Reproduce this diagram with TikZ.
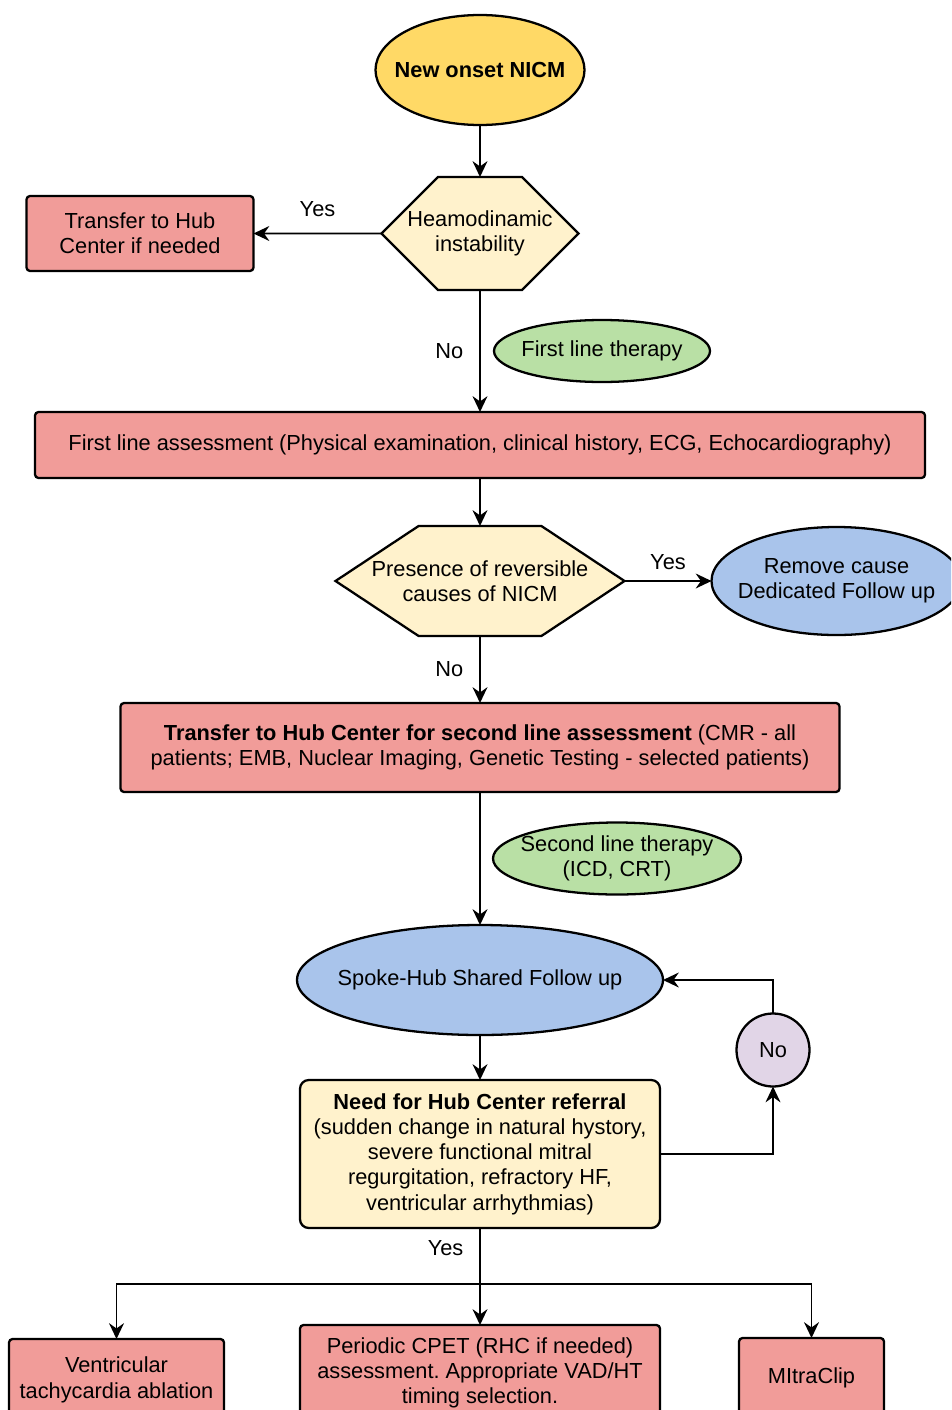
\documentclass[tikz,border=0pt]{standalone}
\usepackage{fontspec}
\setmainfont{Liberation Sans}
\frenchspacing
\usetikzlibrary{shapes.geometric, shapes.symbols, arrows.meta, positioning, calc}

\definecolor{onsetyellow}{HTML}{FFD966}
\definecolor{askyellow}{HTML}{FFF2CC}
\definecolor{stepred}{HTML}{F19C99}
\definecolor{therapygreen}{HTML}{B9E0A5}
\definecolor{followblue}{HTML}{A9C4EB}
\definecolor{nopurple}{HTML}{E1D5E7}

% zero-width text line, so an oval keeps its own size
\newcommand{\nw}[1]{\makebox[0pt]{#1}}

\begin{document}
\begin{tikzpicture}[
    node distance=1.0cm,
    font=\fontsize{12.4}{14.4}\selectfont,
    stepbox/.style={rectangle, draw=black, fill=stepred, line width=1.3pt, rounded corners=2pt, align=center, inner sep=2pt, outer sep=0pt},
    hexa/.style={signal, signal to=east and west, draw=black, fill=askyellow, line width=1.3pt, align=center, inner sep=0pt, outer sep=0pt},
    oval/.style={ellipse, draw=black, line width=1.3pt, align=center, inner sep=0pt, outer sep=0pt},
    lbl/.style={inner sep=1pt},
    link/.style={line width=1pt},
    arrow/.style={-{Stealth[length=9pt, width=8.5pt, inset=3pt]}, line width=1pt}
]
\useasboundingbox (0,0) rectangle (19.02,-28.2);
\clip (0,0) rectangle (19.02,-28.2);

% Nodes
\node[oval, fill=onsetyellow, minimum width=4.18cm, minimum height=2.2cm] (nicm) at (9.6,-1.4) {\nw{\textbf{New onset NICM}}};

\node[hexa, minimum width=3.94cm, minimum height=2.26cm, below=1.04cm of nicm] (heamo) {\nw{Heamodinamic}\\\nw{instability}};
\node[stepbox, minimum width=4.54cm, minimum height=1.5cm, left=2.56cm of heamo] (hubx) {Transfer to Hub\\Center if needed};

\node[stepbox, minimum width=17.8cm, minimum height=1.32cm, below=2.44cm of heamo] (fla) {First line assessment (Physical examination, clinical history, ECG, Echocardiography)};
\coordinate (gap1) at ($(heamo.south)!0.5!(fla.north)$);
\node[oval, fill=therapygreen, minimum width=4.32cm, minimum height=1.24cm, right=0.28cm of gap1] (flt) {\nw{First line therapy}};

\node[hexa, signal pointer angle=67, minimum width=5.78cm, minimum height=2.2cm, below=0.96cm of fla] (rev) {\nw{Presence of reversible}\\\nw{causes of NICM}};
\node[oval, fill=followblue, minimum width=5cm, minimum height=2.16cm, right=1.74cm of rev] (remove) {\nw{Remove cause}\\\nw{Dedicated Follow up}};

\node[stepbox, minimum width=14.38cm, minimum height=1.78cm, below=1.34cm of rev] (hub2) {\textbf{Transfer to Hub Center for second line assessment} (CMR - all\\patients; EMB, Nuclear Imaging, Genetic Testing - selected patients)};

\node[oval, fill=followblue, minimum width=7.32cm, minimum height=2.2cm, below=2.66cm of hub2] (spoke) {\nw{Spoke-Hub Shared Follow up}};
\coordinate (gap2) at ($(hub2.south)!0.5!(spoke.north)$);
\node[oval, fill=therapygreen, minimum width=4.96cm, minimum height=1.44cm, right=0.26cm of gap2] (slt) {\nw{Second line therapy}\\\nw{(ICD, CRT)}};

\node[stepbox, fill=askyellow, rounded corners=5pt, minimum width=7.2cm, minimum height=2.96cm, below=0.9cm of spoke] (need) {\textbf{Need for Hub Center referral}\\(sudden change in natural hystory,\\severe functional mitral\\regurgitation, refractory HF,\\ventricular arrhythmias)};
\node[circle, draw=black, fill=nopurple, line width=1.3pt, minimum size=1.46cm, inner sep=0pt, outer sep=0pt] (nobub) at (15.46,-21.0) {No};

\node[stepbox, minimum width=7.2cm, minimum height=1.92cm, below=1.94cm of need] (cpet) {Periodic CPET (RHC if needed)\\assessment. Appropriate VAD/HT\\timing selection.};
\node[stepbox, minimum width=4.3cm, minimum height=1.64cm, left=1.52cm of cpet, yshift=-0.14cm] (vt) {Ventricular\\tachycardia ablation};
\node[stepbox, minimum width=2.9cm, minimum height=1.6cm, right=1.58cm of cpet, yshift=-0.1cm] (mitra) {MItraClip};
\coordinate (fork) at ($(need.south)!0.58!(cpet.north)$);

% Arrows
\draw[arrow] (nicm) -- (heamo);
\draw[arrow] (heamo) -- node[lbl, above=8pt] {Yes} (hubx);
\draw[arrow] (heamo) -- node[lbl, left=8pt] {No} (fla);
\draw[arrow] (fla) -- (rev);
\draw[arrow] (rev) -- node[lbl, above=5pt] {Yes} (remove);
\draw[arrow] (rev) -- node[lbl, left=8pt] {No} (hub2);
\draw[arrow] (hub2) -- (spoke);
\draw[arrow] (spoke) -- (need);
\draw[arrow] (need.east) -| (nobub);
\draw[arrow] (nobub) |- (spoke);
\draw[link] (need) -- node[lbl, left=8pt, pos=0.35] {Yes} (fork);
\draw[arrow] (fork) -- (cpet);
\draw[arrow] (fork) -| (vt);
\draw[arrow] (fork) -| (mitra);

\end{tikzpicture}
\end{document}
